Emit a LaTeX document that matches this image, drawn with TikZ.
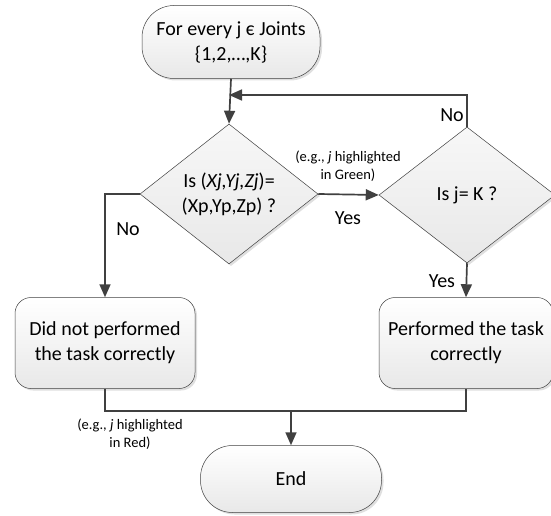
\documentclass[tikz,border=0pt]{standalone}
\usepackage{fontspec}
\setmainfont{Carlito}
\usetikzlibrary{shapes.geometric,arrows.meta,shadows}
\begin{document}
\begin{tikzpicture}[x=1pt,y=-1pt,
  base/.style={draw=black!75, line width=0.5pt, top color=white, bottom color=black!9,
    drop shadow={shadow xshift=2pt,shadow yshift=-2pt,opacity=0.25},
    font=\fontsize{20}{25}\selectfont, align=center, inner sep=0pt},
  term/.style={base, rectangle, rounded corners=32pt},
  procbox/.style={base, rectangle, rounded corners=16pt},
  dia/.style={base, diamond, top color=black!3, bottom color=black!9},
  conn/.style={draw=black!75, line width=1.7pt},
  arr/.style={conn, -{Triangle[length=13pt,width=11pt]}},
  lbl/.style={font=\fontsize{20}{24}\selectfont, inner sep=0pt},
  small/.style={font=\fontsize{14.5}{17.5}\selectfont, align=center, inner sep=0pt}]
\useasboundingbox (0,0) rectangle (551,516);
\node[term, minimum width=178pt, minimum height=73pt] (start) at (231,42) {For every j є Joints\\\{1,2,…,K\}};
\node[dia, minimum width=178pt, minimum height=140pt] (d1) at (229,194) {Is (\textit{Xj,Yj,Zj})=\\(Xp,Yp,Zp) ?};
\node[dia, minimum width=176pt, minimum height=136pt] (d2) at (467,195) {Is j= K ?};
\node[procbox, minimum width=180pt, minimum height=91pt] (boxL) at (105,343) {Did not performed\\the task correctly};
\node[procbox, minimum width=174pt, minimum height=91pt] (boxR) at (466,343) {Performed the task\\correctly};
\node[term, minimum width=181pt, minimum height=67pt] (endn) at (291,479) {End};
\coordinate (loop) at (229,95);
\coordinate (mid) at (291,411);
\draw[arr] (start.south) -- (d1.north);
\draw[arr] (d2.north) -- (d2.north |- loop) -- (loop);
\draw[arr] (d1.east) -- (d2.west);
\draw[arr] (d1.west) -| (boxL.north);
\draw[arr] (d2.south) -- (boxR.north);
\draw[conn] (boxL.south) |- (boxR.south |- mid) -- (boxR.south);
\draw[arr] (mid) -- (endn.north);
\node[lbl] (noR) at (452,115) {No};
\node[lbl] (noL) at (128,229) {No};
\node[lbl] (yes1) at (348,218) {Yes};
\node[lbl] (yes2) at (442,281) {Yes};
\node[small] (green) at (348,166) {(e.g., \textit{j} highlighted\\in Green)};
\node[small] (red) at (130,434) {(e.g., \textit{j} highlighted\\in Red)};
\end{tikzpicture}
\end{document}
